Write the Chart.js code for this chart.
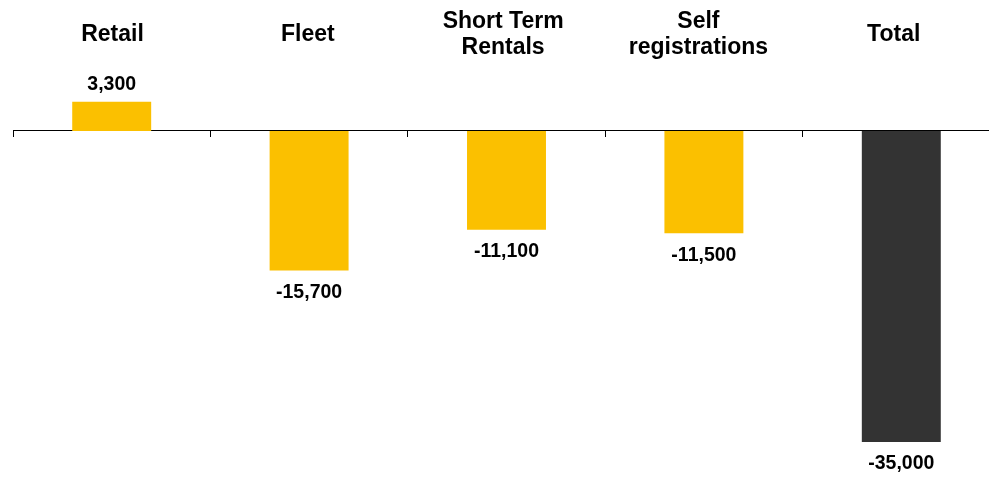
<!DOCTYPE html><html lang="en">
<head>
  <meta charset="UTF-8" />
  <title>Registrations change</title>
  <script src="https://cdn.jsdelivr.net/npm/chart.js"></script>
  <style>
    html, body { margin: 0; padding: 0; overflow: hidden; background: #fff; }
    #wrap { width: 1000px; height: 481px; position: relative; }
  </style>
</head>
<body>
  <div id="wrap"><canvas id="chart"></canvas></div>
  <script>
    const categories = [['Retail'], ['Fleet'], ['Short Term', 'Rentals'], ['Self', 'registrations'], ['Total']];
    const values = [3300, -15700, -11100, -11500, -35000];
    const barColors = ['#FBC000', '#FBC000', '#FBC000', '#FBC000', '#333333'];

    const fontFamily = '"Liberation Sans", Arial, sans-serif';

    // value labels above / below each bar
    const valueLabels = {
      id: 'valueLabels',
      afterDatasetsDraw(chart) {
        const ctx = chart.ctx;
        const meta = chart.getDatasetMeta(0);
        ctx.save();
        ctx.font = 'bold 19.5px ' + fontFamily;
        ctx.fillStyle = '#000';
        ctx.textAlign = 'center';
        ctx.textBaseline = 'middle';
        meta.data.forEach((bar, i) => {
          const v = values[i];
          const y = v >= 0 ? bar.y - 17 : bar.y + 22;
          ctx.fillText(v.toLocaleString('en-US'), bar.x, y);
        });
        ctx.restore();
      }
    };

    // the category titles sit on a slightly tighter spacing than the bars
    const tightTitles = {
      id: 'tightTitles',
      afterLayout(chart) {
        const s = chart.scales.x;
        s._startPixel = s.left + 1.85;
        s._length = s.width * 0.9894;
      }
    };

    new Chart(document.getElementById('chart'), {
      type: 'bar',
      data: {
        labels: categories,
        datasets: [{
          data: values,
          xAxisID: 'x2',
          backgroundColor: barColors,
          borderWidth: 0,
          barPercentage: 0.4,
          categoryPercentage: 1
        }]
      },
      options: {
        responsive: true,
        maintainAspectRatio: false,
        animation: false,
        layout: { padding: { top: 0, left: 13, right: 0, bottom: 12 } },
        plugins: { legend: { display: false }, tooltip: { enabled: false } },
        scales: {
          x: {
            type: 'category',
            position: 'top',
            offset: true,
            grid: { display: false, drawTicks: false, offset: true },
            border: { display: false },
            ticks: {
              color: '#000',
              padding: 13.3,
              crossAlign: 'center',
              maxRotation: 0,
              autoSkip: false,
              font: { family: fontFamily, size: 23, weight: 'bold', lineHeight: 1.13 }
            },
            afterFit(scale) { scale.height = 61; }
          },
          x2: {
            type: 'category',
            axis: 'x',
            labels: categories,
            position: { y: 0 },
            offset: true,
            grid: { offset: true, drawOnChartArea: false, drawTicks: true, tickLength: 6, color: '#000', lineWidth: 1 },
            border: { display: true, color: '#000', width: 1 },
            ticks: { display: false }
          },
          y: {
            display: false,
            min: -38040,
            max: 7878
          }
        }
      },
      plugins: [valueLabels, tightTitles]
    });
  </script>
</body>
</html>
